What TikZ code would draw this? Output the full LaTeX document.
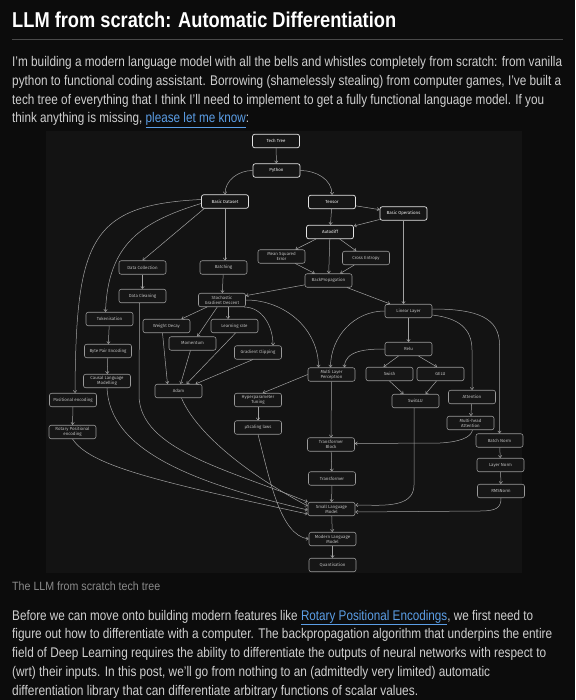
\documentclass[tikz,border=0pt]{standalone}
\usepackage{fontspec}
\usepackage{graphicx}
\setmainfont{Liberation Sans}
\newfontfamily\nodefont{Fira Sans}
\usetikzlibrary{arrows.meta,calc}
\definecolor{pagebg}{HTML}{0C0C0C}
\definecolor{diagbg}{HTML}{131313}
\definecolor{nodebg}{HTML}{161616}
\definecolor{lobord}{HTML}{9A9A9A}
\definecolor{hibord}{HTML}{E4E4E4}
\definecolor{lotext}{HTML}{BDBDBD}
\definecolor{hitext}{HTML}{F2F2F2}
\definecolor{edgecol}{HTML}{A2A2A2}
\definecolor{bodytext}{HTML}{CFCFCF}
\definecolor{captext}{HTML}{8A8A8A}
\definecolor{linkcol}{HTML}{5B9EE6}
\definecolor{rulecol}{HTML}{4A4A4A}
\newcommand\bodyfont{\fontsize{14}{17}\selectfont}
\newcommand\lnk[1]{{\color{linkcol}\underline{#1}}}
\begin{document}
\begin{tikzpicture}[x=1pt,y=-1pt,
  nd/.style={rectangle, rounded corners=2.2pt, draw=lobord, fill=nodebg, line width=0.55pt,
    minimum width=47pt, minimum height=13.5pt, inner sep=0.5pt, align=center, text=lotext,
    font=\nodefont\fontsize{4.4}{4.9}\selectfont},
  hi/.style={nd, draw=hibord, text=hitext, line width=0.7pt},
  arr/.style={draw=edgecol, line width=0.5pt, -{Straight Barb[length=2.2pt,width=3.4pt]}},
  txt/.style={anchor=base west, inner sep=0pt, text=bodytext}]
\fill[pagebg] (0,0) rectangle (575,700);
\useasboundingbox (0,0) rectangle (575,700);

% ---------- heading and text ----------
\node[txt, text=white] (title) at (12,27.5) {\fontsize{21.5}{24}\selectfont\resizebox{384pt}{\height}{\bfseries LLM from scratch: Automatic Differentiation}};
\draw[rulecol, line width=0.6pt] (12,39) -- (563,39);
\node[txt] (pa) at (12,67) {\bodyfont\resizebox{550pt}{\height}{I’m building a modern language model with all the bells and whistles completely from scratch: from vanilla}};
\node[txt] (pb) at (12,85.6) {\bodyfont\resizebox{549pt}{\height}{python to functional coding assistant. Borrowing (shamelessly stealing) from computer games, I’ve built a}};
\node[txt] (pc) at (12,104.2) {\bodyfont\resizebox{532pt}{\height}{tech tree of everything that I think I’ll need to implement to get a fully functional language model. If you}};
\node[txt] (pd) at (12,122.8) {\bodyfont\resizebox{237pt}{\height}{think anything is missing, \lnk{please let me know}:}};

\node[txt, text=captext] (cap) at (12,590) {\fontsize{12}{14}\selectfont\resizebox{148pt}{\height}{The LLM from scratch tech tree}};
\node[txt] (qa) at (12,620) {\bodyfont\resizebox{521pt}{\height}{Before we can move onto building modern features like \lnk{Rotary Positional Encodings}, we first need to}};
\node[txt] (qb) at (12,638.8) {\bodyfont\resizebox{540pt}{\height}{figure out how to differentiate with a computer. The backpropagation algorithm that underpins the entire}};
\node[txt] (qc) at (12,657.6) {\bodyfont\resizebox{534pt}{\height}{field of Deep Learning requires the ability to differentiate the outputs of neural networks with respect to}};
\node[txt] (qd) at (12,676.4) {\bodyfont\resizebox{478pt}{\height}{(wrt) their inputs. In this post, we’ll go from nothing to an (admittedly very limited) automatic}};
\node[txt] (qe) at (12,695) {\bodyfont\resizebox{406pt}{\height}{differentiation library that can differentiate arbitrary functions of scalar values.}};

% ---------- diagram ----------
\fill[diagbg] (46,131) rectangle (522,573);

\node[hi] (tt)   at (276,141)     {Tech Tree};
\node[hi] (py)   at (276.5,170.5) {Python};
\node[hi] (bd)   at (225,201.5)   {Basic Dataset};
\node[hi] (ten)  at (332,202)     {Tensor};
\node[hi] (bo)   at (403.5,213.5) {Basic Operations};
\node[hi] (ad)   at (330,232)     {Autodiff};
\node[nd] (mse)  at (281.5,256.5) {Mean Squared\\Error};
\node[nd] (ce)   at (366,258)     {Cross Entropy};
\node[nd] (bp)   at (328.5,280.5) {BackPropagation};
\node[nd] (dc)   at (142.5,267.5) {Data Collection};
\node[nd] (bat)  at (223.5,267.5) {Batching};
\node[nd] (dcl)  at (142.5,296)   {Data Cleaning};
\node[nd] (sgd)  at (222,300)     {Stochastic\\Gradient Descent};
\node[nd] (tok)  at (109.5,319)   {Tokenisation};
\node[nd] (wd)   at (166.5,326)   {Weight Decay};
\node[nd] (lr)   at (234.5,326)   {Learning rate};
\node[nd] (mom)  at (192.5,343.5) {Momentum};
\node[nd] (bpe)  at (108,351)     {Byte Pair Encoding};
\node[nd] (gc)   at (258,352.5)   {Gradient Clipping};
\node[nd] (clm)  at (107,381)     {Causal Language\\Modelling};
\node[nd] (adam) at (178.5,391)   {Adam};
\node[nd] (pe)   at (73,400)      {Positional encoding};
\node[nd] (rpe)  at (72.5,432)    {Rotary Positional\\encoding};
\node[nd] (hpt)  at (258,400)     {Hyperparameter\\Tuning};
\node[nd] (sl)   at (258,427.5)   {µScaling laws};
\node[nd] (ll)   at (408.5,311)   {Linear Layer};
\node[nd] (relu) at (408.5,349)   {Relu};
\node[nd] (mlp)  at (331.5,374.5) {Multi Layer\\Perceptron};
\node[nd] (sw)   at (389.5,374)   {Swish};
\node[nd] (gelu) at (440.5,374)   {GELU};
\node[nd] (swg)  at (415.5,401)   {SwiGLU};
\node[nd] (att)  at (472,397)     {Attention};
\node[nd] (mha)  at (470.5,423)   {Multi-head\\Attention};
\node[nd] (bn)   at (499.5,440.5) {Batch Norm};
\node[nd] (ln)   at (500.5,465)   {Layer Norm};
\node[nd] (rms)  at (501,491)     {RMSNorm};
\node[nd] (tb)   at (331,444.5)   {Transformer\\Block};
\node[nd] (tr)   at (332,478.5)   {Transformer};
\node[nd] (slm)  at (331.5,509)   {Small Language\\Model};
\node[nd] (mlm)  at (332.5,539)   {Modern Language\\Model};
\node[nd] (q)    at (332.5,565)   {Quantisation};

% ---------- connectors ----------
\draw[arr] (tt) -- (py);
\draw[arr] (py.west) to[out=180,in=90] (bd.north);
\draw[arr] (py.east) to[out=0,in=90] (ten.north);
\draw[arr] (ten) -- (bo);
\draw[arr] (bo) -- (ad);
\draw[arr] (ten) -- (ad);
\draw[arr] (ad) -- (mse);
\draw[arr] (ad) -- (bp);
\draw[arr] (ad) -- (ce);
\draw[arr] (mse) -- (bp);
\draw[arr] (ce) -- (bp);
\draw[arr] (bp) -- (sgd);
\draw[arr] (bp) -- (ll);
\draw[arr] (bo.south) -- (bo.south |- ll.north);
\draw[arr] ([xshift=3pt]bd.south west) -- (dc.north);
\draw[arr] (bd.south) -- (bd.south |- bat.north);
\draw[arr] ([yshift=-2pt]bd.west) .. controls (140,222) and (108,245) .. ([xshift=-4pt]tok.north);
\draw[arr] ([yshift=2pt]bd.west) .. controls (90,205) and (76,240) .. ([xshift=2pt]pe.north);
\draw[arr] (dc) -- (dcl);
\draw[arr] (bat) -- (sgd);
\draw[arr] (sgd) -- (wd);
\draw[arr] ([xshift=6pt]sgd.south) -- ([xshift=-6.5pt]lr.north);
\draw[arr] (sgd) -- (mom);
\draw[arr] ([xshift=-2pt]sgd.south east) to[out=0,in=90] ([xshift=15pt]gc.north);
\draw[arr] ([xshift=-4pt]wd.south) -- ([xshift=-11pt]adam.north);
\draw[arr] (mom) -- (adam);
\draw[arr] ([xshift=1pt]lr.south) -- ([xshift=8pt]adam.north);
\draw[arr] ([xshift=-5pt]gc.south) -- ([xshift=17pt]adam.north);
\draw[arr] (tok) -- (bpe);
\draw[arr] (bpe) -- (clm);
\draw[arr] (pe) -- (rpe);
\draw[arr] (sgd.east) to[out=0,in=90] ([xshift=-13pt]mlp.north);
\draw[arr] (ll.west) to[out=180,in=90] ([xshift=-1pt]mlp.north);
\draw[arr] (relu.west) to[out=180,in=90] ([xshift=13pt]mlp.north);
\draw[arr] (ll) -- (relu);
\draw[arr] ([xshift=-10pt]relu.south) -- ([xshift=-6pt]sw.north);
\draw[arr] ([xshift=10pt]relu.south) -- ([xshift=-3.5pt]gelu.north);
\draw[arr] (sw.south) -- ([xshift=-12pt]swg.north);
\draw[arr] ([xshift=-4pt]gelu.south) -- ([xshift=10pt]swg.north);
\draw[arr] ([yshift=-4pt]ll.east) .. controls (458,318) and (472,328) .. (472,350) -- (att.north);
\draw[arr] ([yshift=2pt]ll.east) .. controls (478,309) and (499.5,318) .. (499.5,345) -- (bn.north);
\draw[arr] (att) -- (mha);
\draw[arr] ([xshift=2pt]mha.south) .. controls (471,438) and (458,442) .. (440,443) -- ([yshift=1pt]tb.east);
\draw[arr] (mlp) -- (tb);
\draw[arr] (mlp.west) -- ([xshift=-19pt]hpt.north east);
\draw[arr] (hpt) -- (sl);
\draw[arr] (bn) -- (ln);
\draw[arr] (ln) -- (rms);
\draw[arr] (tb) -- (tr);
\draw[arr] (tr) -- (slm);
\draw[arr] (slm) -- (mlm);
\draw[arr] (mlm) -- (q);
\draw[arr] ([xshift=-1.5pt]swg.south) -- (414,485) to[out=-90,in=0] ([yshift=4pt]slm.east);
\draw[arr] (rms.south) .. controls (501,508) and (496,511) .. (480,511) -- ([yshift=-3pt]slm.east);
\draw[arr] ([xshift=-3pt]dcl.south) -- (139,395) .. controls (139,450) and (230,470) .. ([yshift=7pt]slm.west);
\draw[arr] ([xshift=3pt]adam.south) .. controls (195,430) and (240,470) .. ([yshift=3pt]slm.west);
\draw[arr] (clm.south) .. controls (110,450) and (190,482) .. ([yshift=-1pt]slm.west);
\draw[arr] (rpe.south) .. controls (90,465) and (150,480) .. ([yshift=-5pt]slm.west);
\draw[arr] (sl.south) .. controls (270,480) and (280,535) .. (mlm.west);
\end{tikzpicture}
\end{document}
